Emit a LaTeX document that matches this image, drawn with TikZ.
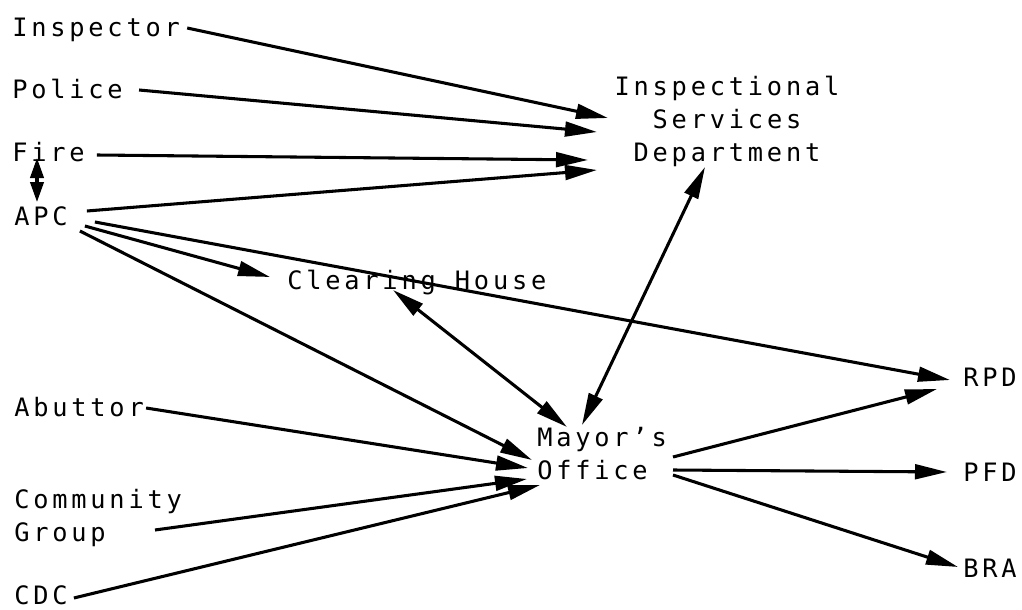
\documentclass[tikz,border=0pt]{standalone}
\usepackage{fontspec}
\newfontfamily\dotfont[LetterSpace=15]{DejaVu Sans Mono}
\usetikzlibrary{arrows.meta,calc}
\tikzset{
  lbl/.style={inner sep=0pt, font=\dotfont\fontsize{19pt}{24.75pt}\selectfont},
  one/.style={lbl, anchor=west, text height=13.8pt, text depth=0pt},
  tip/.tip={Triangle[length=24pt,width=11pt]},
  link/.style={line width=2.3pt, -tip},
  both/.style={line width=2.3pt, tip-tip}
}
\begin{document}
\begin{tikzpicture}[x=0.75pt, y=-0.75pt]
\useasboundingbox (0,0) rectangle (1022,610);

% sources on the left
\node[one] (insp)   at (12,27)  {Inspector};
\node[one] (police) at (12,89)  {Police};
\node[one] (fire)   at (12,152) {Fire};
\node[one] (apc)    at (14,216) {APC};
\node[one] (abut)   at (14,407) {Abuttor};
\node[lbl, anchor=west, align=left] (comm) at (14,518) {Community\\Group};
\node[one] (cdc)    at (14,595) {CDC};

% middle offices
\node[lbl, align=center] (isd) at (727,121) {Inspectional\\Services\\Department};
\node[one] (ch) at (287,280) {Clearing House};
\node[lbl, anchor=west, align=left] (mayor) at (537,454) {Mayor’s\\Office};

% destinations on the right
\node[one] (rpd) at (963,377) {RPD};
\node[one] (pfd) at (963,472) {PFD};
\node[one] (bra) at (963,568) {BRA};

% into the Inspectional Services Department
\draw[link] ($(insp.east)+(7,1)$)    -- ($(isd.center)+(-119,-3)$);
\draw[link] ($(police.east)+(16,1)$) -- ($(isd.center)+(-130,11)$);
\draw[link] ($(fire.east)+(12,3)$)   -- ($(isd.center)+(-139,39)$);
\draw[link] ($(apc.east)+(19,-5)$)   -- ($(isd.center)+(-130,49)$);

% Fire and APC
\draw[line width=2.3pt, {Triangle[length=15pt,width=10pt]}-{Triangle[length=15pt,width=10pt]}]
  ($(fire.west)+(25,6)$) -- ($(apc.west)+(23,-14)$);

% out of APC
\draw[link] ($(apc.east)+(27,6)$)  -- ($(rpd.west)+(-13,3)$);
\draw[link] ($(apc.east)+(17,10)$) -- ($(ch.west)+(-17,-3)$);
\draw[link] ($(apc.east)+(12,15)$) -- ($(mayor.west)+(-5,6)$);

% two-way links with the Mayor's Office
\draw[both] ($(ch.west)+(106,10)$) -- ($(mayor.west)+(30,-27)$);
\draw[both] ($(isd.center)+(-22,46)$) -- ($(mayor.west)+(45,-29)$);

% other sources into the Mayor's Office
\draw[link] ($(abut.east)+(2,1)$)    -- ($(mayor.west)+(-9,14)$);
\draw[link] ($(comm.west)+(141,12)$) -- ($(mayor.west)+(-10,25)$);
\draw[link] ($(cdc.east)+(6,3)$)     -- ($(mayor.west)+(3,31)$);

% out of the Mayor's Office
\draw[link] ($(mayor.west)+(136,3)$)  -- ($(rpd.west)+(-26,12)$);
\draw[link] ($(mayor.west)+(136,16)$) -- ($(pfd.west)+(-16,0)$);
\draw[link] ($(mayor.west)+(136,21)$) -- ($(bra.west)+(-5,-1)$);
\end{tikzpicture}
\end{document}
